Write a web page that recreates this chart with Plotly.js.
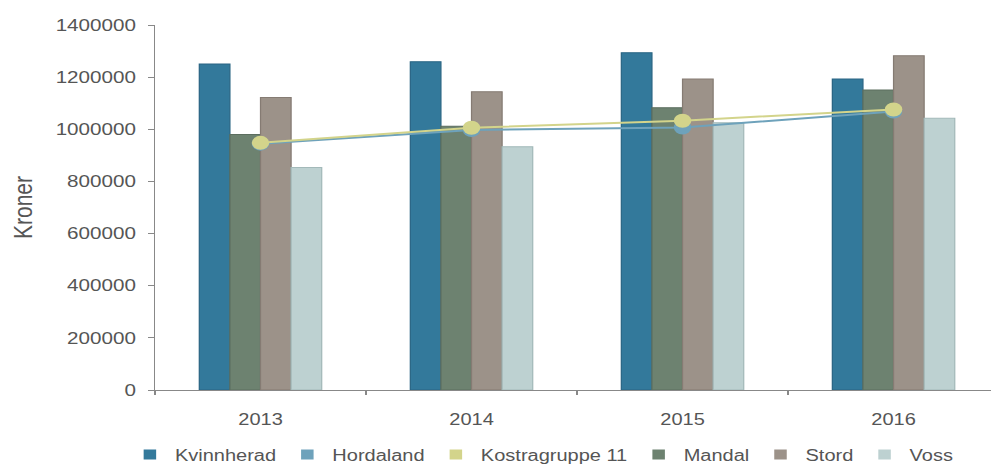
<!DOCTYPE html>
<html><head><meta charset="utf-8">
<script src="https://cdn.plot.ly/plotly-3.0.1.min.js"></script>
<style>
html,body{margin:0;padding:0;overflow:hidden;background:#fff;width:991px;height:464px}
#chart{width:793px;height:464px;transform:scaleX(1.25);transform-origin:0 0}
</style></head><body><div id="chart"></div>
<script>
const years = ['2013', '2014', '2015', '2016'];
const kvinnherad = [1250000, 1259000, 1294000, 1193000];
const mandal = [980000, 1012000, 1083000, 1151000];
const stord = [1122000, 1144000, 1193000, 1282000];
const voss = [853000, 933000, 1025000, 1042000];
const hordaland = [945000, 997000, 1007000, 1068000];
const kostragruppe11 = [948000, 1006000, 1033000, 1076000];
const yTickVals = [0, 200000, 400000, 600000, 800000, 1000000, 1200000, 1400000];
const yTickText = ['0', '200000', '400000', '600000', '800000', '1000000', '1200000', '1400000'];

const C = {
  kvinnherad: '#33799b', kvinnheradEdge: '#2a6584',
  hordaland: '#6ea2bb',
  kostra: '#d3d48b',
  mandal: '#6d8270', mandalEdge: '#5c6e5f',
  stord: '#9c9289', stordEdge: '#857b73',
  voss: '#bdd1d1', vossEdge: '#a3b9b9'
};

function bar(name, y, color, edge) {
  return {type: 'bar', name: name, x: years, y: y, showlegend: false,
    marker: {color: color, line: {color: edge, width: 1}}, hoverinfo: 'x+y+name'};
}
function line(name, y, color) {
  return {type: 'scatter', mode: 'lines+markers', name: name, x: years, y: y, showlegend: false,
    line: {color: color, width: 2}, marker: {color: color, size: 14}};
}
function proxy(name, color, rank) {
  return {type: 'scatter', mode: 'markers', name: name, x: [null], y: [null], legendrank: rank,
    marker: {symbol: 'square', size: 10, color: color}, hoverinfo: 'skip'};
}

const data = [
  bar('Kvinnherad', kvinnherad, C.kvinnherad, C.kvinnheradEdge),
  bar('Mandal', mandal, C.mandal, C.mandalEdge),
  bar('Stord', stord, C.stord, C.stordEdge),
  bar('Voss', voss, C.voss, C.vossEdge),
  line('Hordaland', hordaland, C.hordaland),
  line('Kostragruppe 11', kostragruppe11, C.kostra),
  proxy('Kvinnherad', C.kvinnherad, 1),
  proxy('Hordaland', C.hordaland, 2),
  proxy('Kostragruppe 11', C.kostra, 3),
  proxy('Mandal', C.mandal, 4),
  proxy('Stord', C.stord, 5),
  proxy('Voss', C.voss, 6)
];

const layout = {
  width: 793, height: 464,
  margin: {l: 124, r: 0, t: 25, b: 74, autoexpand: false},
  paper_bgcolor: '#fff', plot_bgcolor: '#fff',
  font: {family: 'Liberation Sans, Arial, sans-serif', color: '#555', size: 16},
  barmode: 'group', bargap: 0.42, bargroupgap: 0,
  showlegend: true,
  legend: {orientation: 'h', xref: 'container', x: 0.126, xanchor: 'left',
    yref: 'container', y: 0.02, yanchor: 'middle',
    font: {size: 16, color: '#555'}, traceorder: 'normal', itemclick: false},
  xaxis: {type: 'category', range: [-0.5, 3.463], showline: true, linecolor: '#888', linewidth: 1,
    ticks: 'outside', tickson: 'boundaries', ticklen: 4, tickcolor: '#888',
    showgrid: false, zeroline: false, tickfont: {size: 16, color: '#555'}, ticklabelstandoff: 15},
  yaxis: {range: [0, 1400000], tickvals: yTickVals, ticktext: yTickText,
    showline: true, linecolor: '#888', linewidth: 1, ticks: 'outside', ticklen: 5, tickcolor: '#888',
    showgrid: false, zeroline: false, tickfont: {size: 16.5, color: '#555'}, ticklabelstandoff: 6,
    title: {text: 'Kroner', font: {size: 21, color: '#555'}, standoff: 12}}
};

Plotly.newPlot('chart', data, layout, {displayModeBar: false, staticPlot: true});
</script></body></html>
